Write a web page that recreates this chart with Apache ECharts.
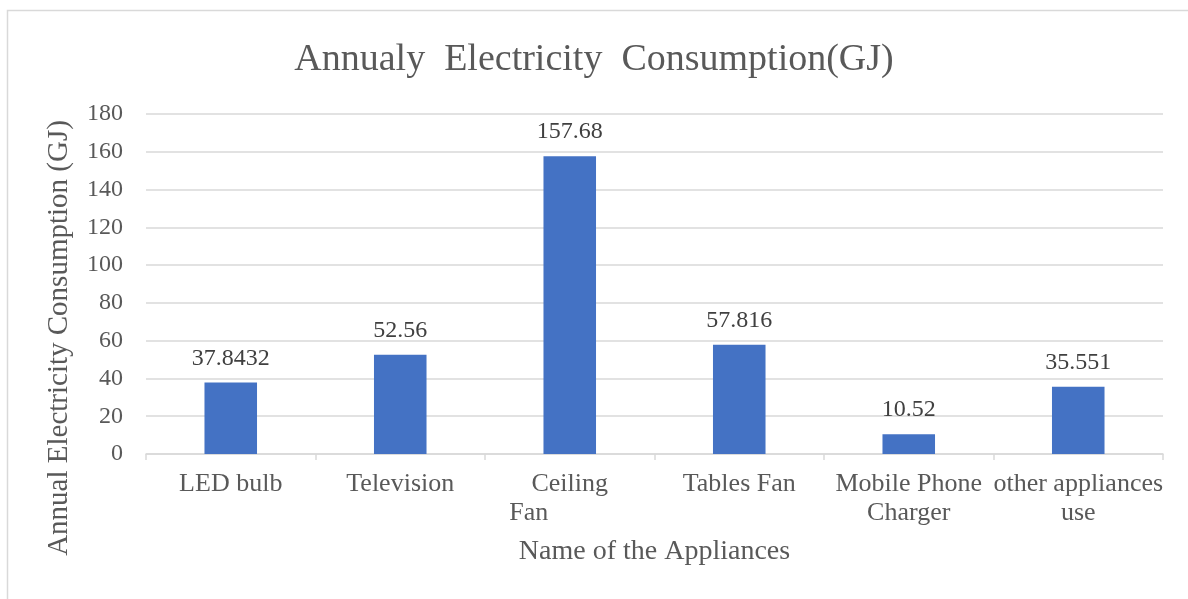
<!DOCTYPE html>
<html><head><meta charset="utf-8">
<script src="https://cdn.jsdelivr.net/npm/echarts@6/dist/echarts.min.js"></script>
<style>html,body{margin:0;padding:0;background:#fff}#c{width:1188px;height:599px}</style>
</head><body><div id="c"></div>
<script>
const categories = ["LED bulb", "Television", "Ceiling\n{fan|Fan}", "Tables Fan", "Mobile Phone\nCharger", "other appliances\nuse"];
const values = [37.8432, 52.56, 157.68, 57.816, 10.52, 35.551];
const labels = ["37.8432", "52.56", "157.68", "57.816", "10.52", "35.551"];
const yTicks = [0, 20, 40, 60, 80, 100, 120, 140, 160, 180];

const font = "'Liberation Serif', 'Times New Roman', serif";
const chart = echarts.init(document.getElementById('c'));
chart.setOption({
  animation: false,
  graphic: [{type:'rect', shape:{x:7.5,y:10.5,width:1190,height:600}, style:{fill:'none', stroke:'#d9d9d9', lineWidth:1.5}, silent:true}],
  title: {text: 'Annualy  Electricity  Consumption(GJ)', left: 'center', top: 36,
    textStyle:{fontFamily:font, fontSize:38, fontWeight:'normal', color:'#595959'}, padding:[5,0,5,14]},
  grid: {left:146, right:25, top:114, bottom:145},
  xAxis: {type:'category', data:categories,
    name:'Name of the Appliances', nameLocation:'middle', nameGap:84,
    nameTextStyle:{fontFamily:font, fontSize:28, color:'#595959'},
    axisLine:{lineStyle:{color:'#d9d9d9', width:1.5}},
    axisTick:{show:true, length:6, lineStyle:{color:'#d9d9d9', width:1.5}},
    axisLabel:{fontFamily:font, fontSize:26, color:'#595959', margin:16, lineHeight:29, interval:0,
      rich:{fan:{fontFamily:font, fontSize:26, color:'#595959', lineHeight:29, padding:[0,82,0,0]}}}},
  yAxis: {type:'value', min:yTicks[0], max:yTicks[yTicks.length-1], interval:20,
    name:'Annual Electricity Consumption (GJ)', nameLocation:'middle', nameGap:72,
    nameTextStyle:{fontFamily:font, fontSize:29, color:'#595959', padding:[0,108,0,0]},
    axisLine:{show:false}, axisTick:{show:false},
    axisLabel:{fontFamily:font, fontSize:24, color:'#595959', margin:23},
    splitLine:{lineStyle:{color:'#d9d9d9', width:1.5}}},
  series: [{type:'bar', data:values, barWidth:'31%',
    itemStyle:{color:'#4472c4'},
    label:{show:true, position:'top', distance:12, fontFamily:font, fontSize:24, color:'#404040',
      formatter:(p)=>labels[p.dataIndex]}}]
});
</script></body></html>
